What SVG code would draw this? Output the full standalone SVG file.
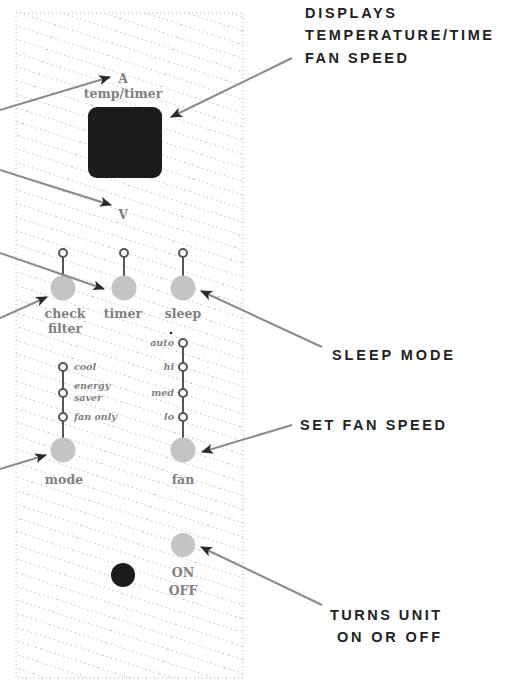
<svg xmlns="http://www.w3.org/2000/svg" width="506" height="681" viewBox="0 0 506 681">
  <defs>
    <pattern id="tex" patternUnits="userSpaceOnUse" width="60" height="13" patternTransform="rotate(18)">
      <line x1="0" y1="6.5" x2="60" y2="6.5" stroke="#a8a8a8" stroke-width="1" stroke-dasharray="1 3.5"/>
    </pattern>
    <marker id="ah" viewBox="0 0 12 10" refX="11" refY="5" markerWidth="12" markerHeight="10" markerUnits="userSpaceOnUse" orient="auto">
      <path d="M0,0 L12,5 L0,10 L3,5 Z" fill="#2a2a2a"/>
    </marker>
  </defs>
  <style>
    .call { font-family: "Liberation Sans", Arial, sans-serif; font-weight: bold; font-size: 14.5px; fill: #222; }
    .lbl { font-family: "DejaVu Serif", "Liberation Serif", serif; font-weight: bold; font-size: 12.5px; fill: #808080; text-anchor: middle; }
    .sm { font-family: "DejaVu Serif", "Liberation Serif", serif; font-style: italic; font-weight: bold; font-size: 9.5px; fill: #808080; }
    .btn { fill: #c4c4c4; }
    .led { fill: #ffffff; stroke: #555; stroke-width: 2; }
    .stem { stroke: #555; stroke-width: 2; }
    .conn { stroke: #8a8a8a; stroke-width: 2; fill: none; marker-end: url(#ah); }
  </style>

  <rect width="506" height="681" fill="#ffffff"/>

  <g id="panel">
    <rect x="16" y="13" width="227" height="665" fill="url(#tex)" stroke="#b0b0b0" stroke-width="1" stroke-dasharray="1 3"/>
  </g>

  <g id="display">
    <text x="123" y="83" class="lbl" font-size="14">A</text>
    <text x="123" y="98" class="lbl" fill="#777">temp/timer</text>
    <rect x="88" y="107" width="74" height="71" rx="9" fill="#1c1c1c"/>
    <text x="123" y="219" class="lbl" font-size="14">V</text>
  </g>

  <g id="checkfilter">
    <line x1="63" y1="253" x2="63" y2="280" class="stem"/>
    <circle cx="63" cy="253" r="4" class="led"/>
    <circle cx="63" cy="288" r="12.5" class="btn"/>
    <text x="65" y="318" class="lbl">check</text>
    <text x="65" y="333" class="lbl">filter</text>
  </g>

  <g id="timer">
    <line x1="124" y1="253" x2="124" y2="280" class="stem"/>
    <circle cx="124" cy="253" r="4" class="led"/>
    <circle cx="124" cy="288" r="12.5" class="btn"/>
    <text x="123" y="318" class="lbl">timer</text>
  </g>

  <g id="sleep">
    <line x1="183" y1="253" x2="183" y2="280" class="stem"/>
    <circle cx="183" cy="253" r="4" class="led"/>
    <circle cx="183" cy="288" r="12.5" class="btn"/>
    <text x="183" y="318" class="lbl">sleep</text>
  </g>

  <circle cx="171" cy="333" r="1.3" fill="#222"/>

  <g id="mode">
    <line x1="63" y1="367" x2="63" y2="442" class="stem"/>
    <circle cx="63" cy="367" r="4" class="led"/>
    <circle cx="63" cy="393" r="4" class="led"/>
    <circle cx="63" cy="417" r="4" class="led"/>
    <circle cx="63" cy="450" r="12.5" class="btn"/>
    <text x="74" y="370" class="sm">cool</text>
    <text x="74" y="389" class="sm">energy</text>
    <text x="74" y="401" class="sm">saver</text>
    <text x="74" y="420" class="sm">fan only</text>
    <text x="64" y="484" class="lbl">mode</text>
  </g>

  <g id="fan">
    <line x1="183" y1="343" x2="183" y2="442" class="stem"/>
    <circle cx="183" cy="343" r="4" class="led"/>
    <circle cx="183" cy="367" r="4" class="led"/>
    <circle cx="183" cy="393" r="4" class="led"/>
    <circle cx="183" cy="417" r="4" class="led"/>
    <circle cx="183" cy="450" r="12.5" class="btn"/>
    <text x="174" y="346" class="sm" text-anchor="end">auto</text>
    <text x="174" y="370" class="sm" text-anchor="end">hi</text>
    <text x="174" y="396" class="sm" text-anchor="end">med</text>
    <text x="174" y="420" class="sm" text-anchor="end">lo</text>
    <text x="183" y="484" class="lbl">fan</text>
  </g>

  <g id="power">
    <circle cx="183" cy="545" r="12" class="btn"/>
    <circle cx="123" cy="575" r="12" fill="#1c1c1c"/>
    <text x="183" y="577" class="lbl" font-size="11">ON</text>
    <text x="183" y="595" class="lbl" font-size="11">OFF</text>
  </g>

  <g id="callouts">
    <text x="305" y="18" class="call" textLength="90" lengthAdjust="spacing">DISPLAYS</text>
    <text x="305" y="40" class="call" textLength="187" lengthAdjust="spacing">TEMPERATURE/TIME</text>
    <text x="305" y="63" class="call" textLength="102" lengthAdjust="spacing">FAN SPEED</text>
    <text x="332" y="360" class="call" textLength="121" lengthAdjust="spacing">SLEEP MODE</text>
    <text x="300" y="430" class="call" textLength="145" lengthAdjust="spacing">SET FAN SPEED</text>
    <text x="330" y="620" class="call" textLength="110" lengthAdjust="spacing">TURNS UNIT</text>
    <text x="337" y="642" class="call" textLength="103" lengthAdjust="spacing">ON OR OFF</text>
  </g>

  <g id="connectors">
    <line x1="0" y1="110" x2="110" y2="77" class="conn"/>
    <line x1="0" y1="170" x2="111" y2="205" class="conn"/>
    <line x1="292" y1="58" x2="171" y2="117" class="conn"/>
    <line x1="0" y1="253" x2="104" y2="289" class="conn"/>
    <line x1="0" y1="318" x2="47" y2="297" class="conn"/>
    <line x1="322" y1="347" x2="201" y2="291" class="conn"/>
    <line x1="0" y1="469" x2="46" y2="455" class="conn"/>
    <line x1="292" y1="425" x2="202" y2="452" class="conn"/>
    <line x1="322" y1="605" x2="201" y2="547" class="conn"/>
  </g>
</svg>
